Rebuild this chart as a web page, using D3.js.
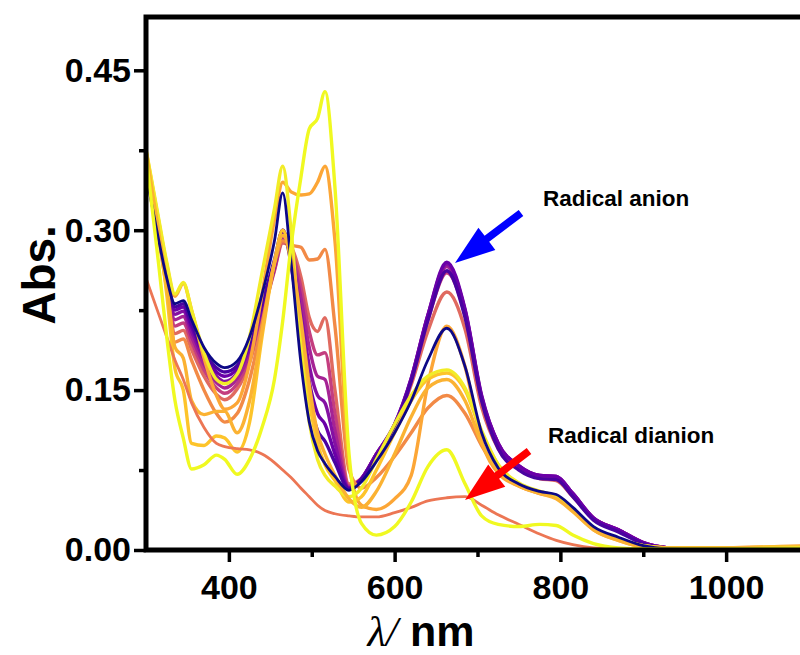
<!DOCTYPE html>
<html>
<head>
<meta charset="utf-8">
<script src="https://cdn.jsdelivr.net/npm/d3@7"></script>
<style>
  html, body { margin: 0; padding: 0; background: #ffffff; }
  svg { display: block; }
</style>
</head>
<body>
<svg id="chart" width="800" height="655"></svg>
<script>
// Wavelength grid (nm) shared by every spectrum
const wavelengths = [300, 315, 325, 335, 345, 355, 370, 385, 395, 410, 425, 440, 455, 465, 475, 487, 497, 507, 516, 528,
                     545, 560, 578, 600, 620, 640, 663, 685, 705, 725, 750, 775, 795, 815, 840, 870, 900, 930, 980, 1100];

// Absorbance spectra recorded during the reduction
const absNavy    = [.352,.292,.255,.231,.234,.216,.190,.175,.171,.177,.200,.240,.290,.335,.270,.175,.120,.093,.081,.069,.056,.064,.083,.110,.140,.178,.208,.172,.110,.077,.062,.055,.052,.040,.022,.012,.004,.001,0,0];
const absIndigo  = [.358,.295,.256,.228,.231,.212,.186,.171,.167,.173,.195,.232,.272,.300,.268,.198,.142,.112,.102,.082,.057,.066,.088,.116,.158,.215,.262,.218,.140,.095,.075,.067,.066,.050,.028,.017,.006,.001,0,0];
const absPurple  = [.362,.297,.256,.225,.228,.209,.183,.167,.163,.170,.192,.229,.268,.300,.272,.210,.158,.128,.118,.090,.058,.067,.090,.118,.161,.220,.270,.226,.145,.100,.079,.070,.069,.053,.030,.019,.007,.002,0,0];
const absViolet  = [.364,.298,.255,.221,.224,.205,.179,.163,.158,.166,.189,.226,.266,.297,.276,.222,.173,.145,.138,.100,.058,.067,.090,.118,.161,.220,.268,.225,.144,.100,.079,.070,.069,.053,.030,.019,.007,.002,0,0];
const absMagenta = [.366,.298,.254,.216,.219,.200,.174,.157,.152,.161,.184,.223,.264,.293,.279,.236,.190,.163,.160,.112,.059,.067,.090,.117,.160,.219,.266,.224,.143,.100,.079,.070,.069,.053,.030,.019,.007,.002,0,0];
const absPink    = [.367,.297,.252,.210,.213,.195,.169,.152,.147,.156,.180,.220,.263,.290,.282,.246,.205,.183,.185,.128,.060,.067,.090,.116,.158,.215,.260,.220,.141,.099,.078,.069,.068,.052,.030,.019,.007,.002,0,0];
const absSalmon  = [.368,.296,.250,.203,.206,.188,.163,.146,.141,.151,.176,.218,.262,.288,.284,.256,.218,.205,.218,.150,.062,.067,.090,.115,.155,.205,.242,.207,.134,.095,.076,.067,.065,.050,.029,.018,.006,.002,0,0];
const absCoral   = [.370,.294,.245,.195,.198,.178,.150,.128,.120,.128,.160,.212,.268,.290,.286,.284,.272,.273,.282,.210,.075,.058,.068,.088,.110,.133,.145,.128,.098,.074,.060,.053,.049,.038,.020,.010,.004,.002,.002,.003];
const absOrange  = [.375,.310,.268,.238,.250,.225,.180,.145,.132,.138,.175,.240,.310,.345,.336,.333,.334,.345,.360,.290,.080,.042,.038,.048,.070,.155,.210,.172,.102,.072,.060,.054,.050,.037,.019,.009,.003,.002,.002,.004];
const absAmber   = [.372,.300,.240,.170,.150,.100,.098,.107,.105,.092,.120,.200,.270,.300,.270,.200,.140,.100,.080,.065,.045,.050,.075,.110,.140,.160,.166,.150,.110,.080,.062,.055,.050,.038,.020,.010,.004,.002,.002,.003];
const absLemon   = [.376,.312,.270,.240,.251,.225,.185,.160,.156,.165,.200,.260,.320,.360,.300,.190,.120,.085,.070,.060,.050,.058,.085,.118,.145,.163,.169,.152,.112,.080,.063,.055,.050,.038,.020,.010,.004,.002,.002,.003];
const absGold    = [.374,.300,.250,.190,.180,.140,.127,.130,.130,.110,.140,.205,.270,.295,.275,.215,.155,.110,.090,.070,.048,.040,.055,.090,.125,.152,.160,.140,.100,.074,.060,.053,.048,.036,.019,.009,.003,.002,.002,.003];
const absDianion = [.255,.222,.200,.178,.160,.138,.115,.100,.097,.095,.094,.090,.082,.075,.068,.058,.050,.042,.037,.034,.032,.031,.031,.035,.040,.046,.049,.050,.042,.033,.024,.015,.009,.005,.002,.001,.001,.001,.001,.002];
const absYellow  = [.370,.270,.200,.140,.105,.076,.080,.089,.085,.071,.085,.115,.160,.215,.285,.350,.395,.405,.430,.340,.090,.025,.014,.022,.045,.078,.094,.062,.032,.024,.022,.024,.023,.014,.006,.002,.001,.001,.001,.002];

// Drawing order (last on top) and the colour of each spectrum
const spectra = [absSalmon, absPink, absMagenta, absViolet, absPurple, absIndigo, absCoral, absOrange,
                 absAmber, absLemon, absGold, absDianion, absNavy, absYellow];
const spectrumColors = ["#e06a60", "#c43e7f", "#a52394", "#8410a3", "#6a00a8", "#4a03a0", "#f28a46", "#fca636",
                        "#fdc42a", "#f2ec27", "#fbb232", "#ec7654", "#0d0887", "#f0f921"];
const spectrumWidths = [3.4, 3.4, 3.4, 3.4, 3.4, 3.4, 3.4, 3.4, 3.4, 3.4, 3.4, 2.8, 2.8, 3.4];

// Axis ticks
const xMajorTicks = [400, 600, 800, 1000];
const xMinorTicks = [500, 700, 900];
const yMajorTicks = [0.00, 0.15, 0.30, 0.45];
const yMinorTicks = [0.075, 0.225, 0.375];

// Annotations
const annotations = [
  { text: "Radical anion",   tx: 543, ty: 206, from: [521, 213], to: [455, 263], color: "#0000ff" },
  { text: "Radical dianion", tx: 548, ty: 443, from: [529, 451], to: [465, 500], color: "#ff0000" }
];

const svg = d3.select("#chart");
const x = d3.scaleLinear().domain([300, 1100]).range([146, 809]);
const y = d3.scaleLinear().domain([0, 0.5]).range([550, 17]);

// Spectra
const line = d3.line()
  .x((d, i) => x(wavelengths[i]))
  .y(d => y(d))
  .curve(d3.curveMonotoneX);

svg.append("g")
  .selectAll("path")
  .data(spectra)
  .join("path")
  .attr("d", d => line(d))
  .attr("fill", "none")
  .attr("stroke", (d, i) => spectrumColors[i])
  .attr("stroke-width", (d, i) => spectrumWidths[i])
  .attr("stroke-linejoin", "round")
  .attr("stroke-linecap", "round");

// Frame
const frame = svg.append("g");
frame.append("path")
  .attr("d", `M${x(300)},${y(0)} V${y(0.5)} H${x(1100)} V${y(0)} Z`)
  .attr("fill", "none")
  .attr("stroke", "#000")
  .attr("stroke-width", 5);

const tickFont = "'Liberation Sans', Arial, sans-serif";

// Bottom axis
const xAxis = svg.append("g")
  .attr("transform", `translate(0,${y(0)})`)
  .call(d3.axisBottom(x).tickValues(xMajorTicks).tickSize(12).tickPadding(13).tickSizeOuter(0).tickFormat(d3.format("d")));
xAxis.select(".domain").remove();
xAxis.selectAll(".tick line").attr("stroke", "#000").attr("stroke-width", 3.5);
xAxis.selectAll(".tick text")
  .attr("font-family", tickFont).attr("font-weight", "bold").attr("font-size", 34).attr("fill", "#000");

const xMinor = svg.append("g")
  .attr("transform", `translate(0,${y(0)})`)
  .call(d3.axisBottom(x).tickValues(xMinorTicks).tickSize(7).tickSizeOuter(0).tickFormat(""));
xMinor.select(".domain").remove();
xMinor.selectAll(".tick line").attr("stroke", "#000").attr("stroke-width", 3.5);

// Left axis
const yAxis = svg.append("g")
  .attr("transform", `translate(${x(300)},0)`)
  .call(d3.axisLeft(y).tickValues(yMajorTicks).tickSize(12).tickPadding(3).tickSizeOuter(0).tickFormat(d3.format(".2f")));
yAxis.select(".domain").remove();
yAxis.selectAll(".tick line").attr("stroke", "#000").attr("stroke-width", 3.5);
yAxis.selectAll(".tick text")
  .attr("font-family", tickFont).attr("font-weight", "bold").attr("font-size", 34).attr("fill", "#000");

const yMinor = svg.append("g")
  .attr("transform", `translate(${x(300)},0)`)
  .call(d3.axisLeft(y).tickValues(yMinorTicks).tickSize(7).tickSizeOuter(0).tickFormat(""));
yMinor.select(".domain").remove();
yMinor.selectAll(".tick line").attr("stroke", "#000").attr("stroke-width", 3.5);

// Axis titles
svg.append("text")
  .attr("transform", "translate(55,275) rotate(-90)")
  .attr("text-anchor", "middle")
  .attr("font-family", tickFont).attr("font-weight", "bold").attr("font-size", 46)
  .text("Abs.");

const xTitle = svg.append("text")
  .attr("x", 421).attr("y", 646)
  .attr("text-anchor", "middle")
  .attr("font-size", 43);
xTitle.append("tspan")
  .attr("font-family", "'Liberation Serif', 'Times New Roman', serif")
  .attr("font-style", "italic")
  .text("λ/");
xTitle.append("tspan")
  .attr("font-family", tickFont).attr("font-weight", "bold")
  .text(" nm");

// Arrows and labels
function arrowPath(from, to, headLen, headHalf, shaftHalf) {
  const dx = to[0] - from[0], dy = to[1] - from[1];
  const len = Math.hypot(dx, dy);
  const ux = dx / len, uy = dy / len;
  const px = -uy, py = ux;
  const bx = to[0] - ux * headLen, by = to[1] - uy * headLen;
  const pts = [
    [from[0] + px * shaftHalf, from[1] + py * shaftHalf],
    [bx + px * shaftHalf, by + py * shaftHalf],
    [bx + px * headHalf, by + py * headHalf],
    to,
    [bx - px * headHalf, by - py * headHalf],
    [bx - px * shaftHalf, by - py * shaftHalf],
    [from[0] - px * shaftHalf, from[1] - py * shaftHalf]
  ];
  return "M" + pts.map(p => p.join(",")).join("L") + "Z";
}

const notes = svg.append("g");
notes.selectAll("path")
  .data(annotations)
  .join("path")
  .attr("d", d => arrowPath(d.from, d.to, 40, 14, 3.8))
  .attr("fill", d => d.color);
notes.selectAll("text")
  .data(annotations)
  .join("text")
  .attr("x", d => d.tx).attr("y", d => d.ty)
  .attr("font-family", tickFont).attr("font-weight", "bold").attr("font-size", 22.5)
  .attr("fill", "#000")
  .text(d => d.text);
</script>
</body>
</html>
